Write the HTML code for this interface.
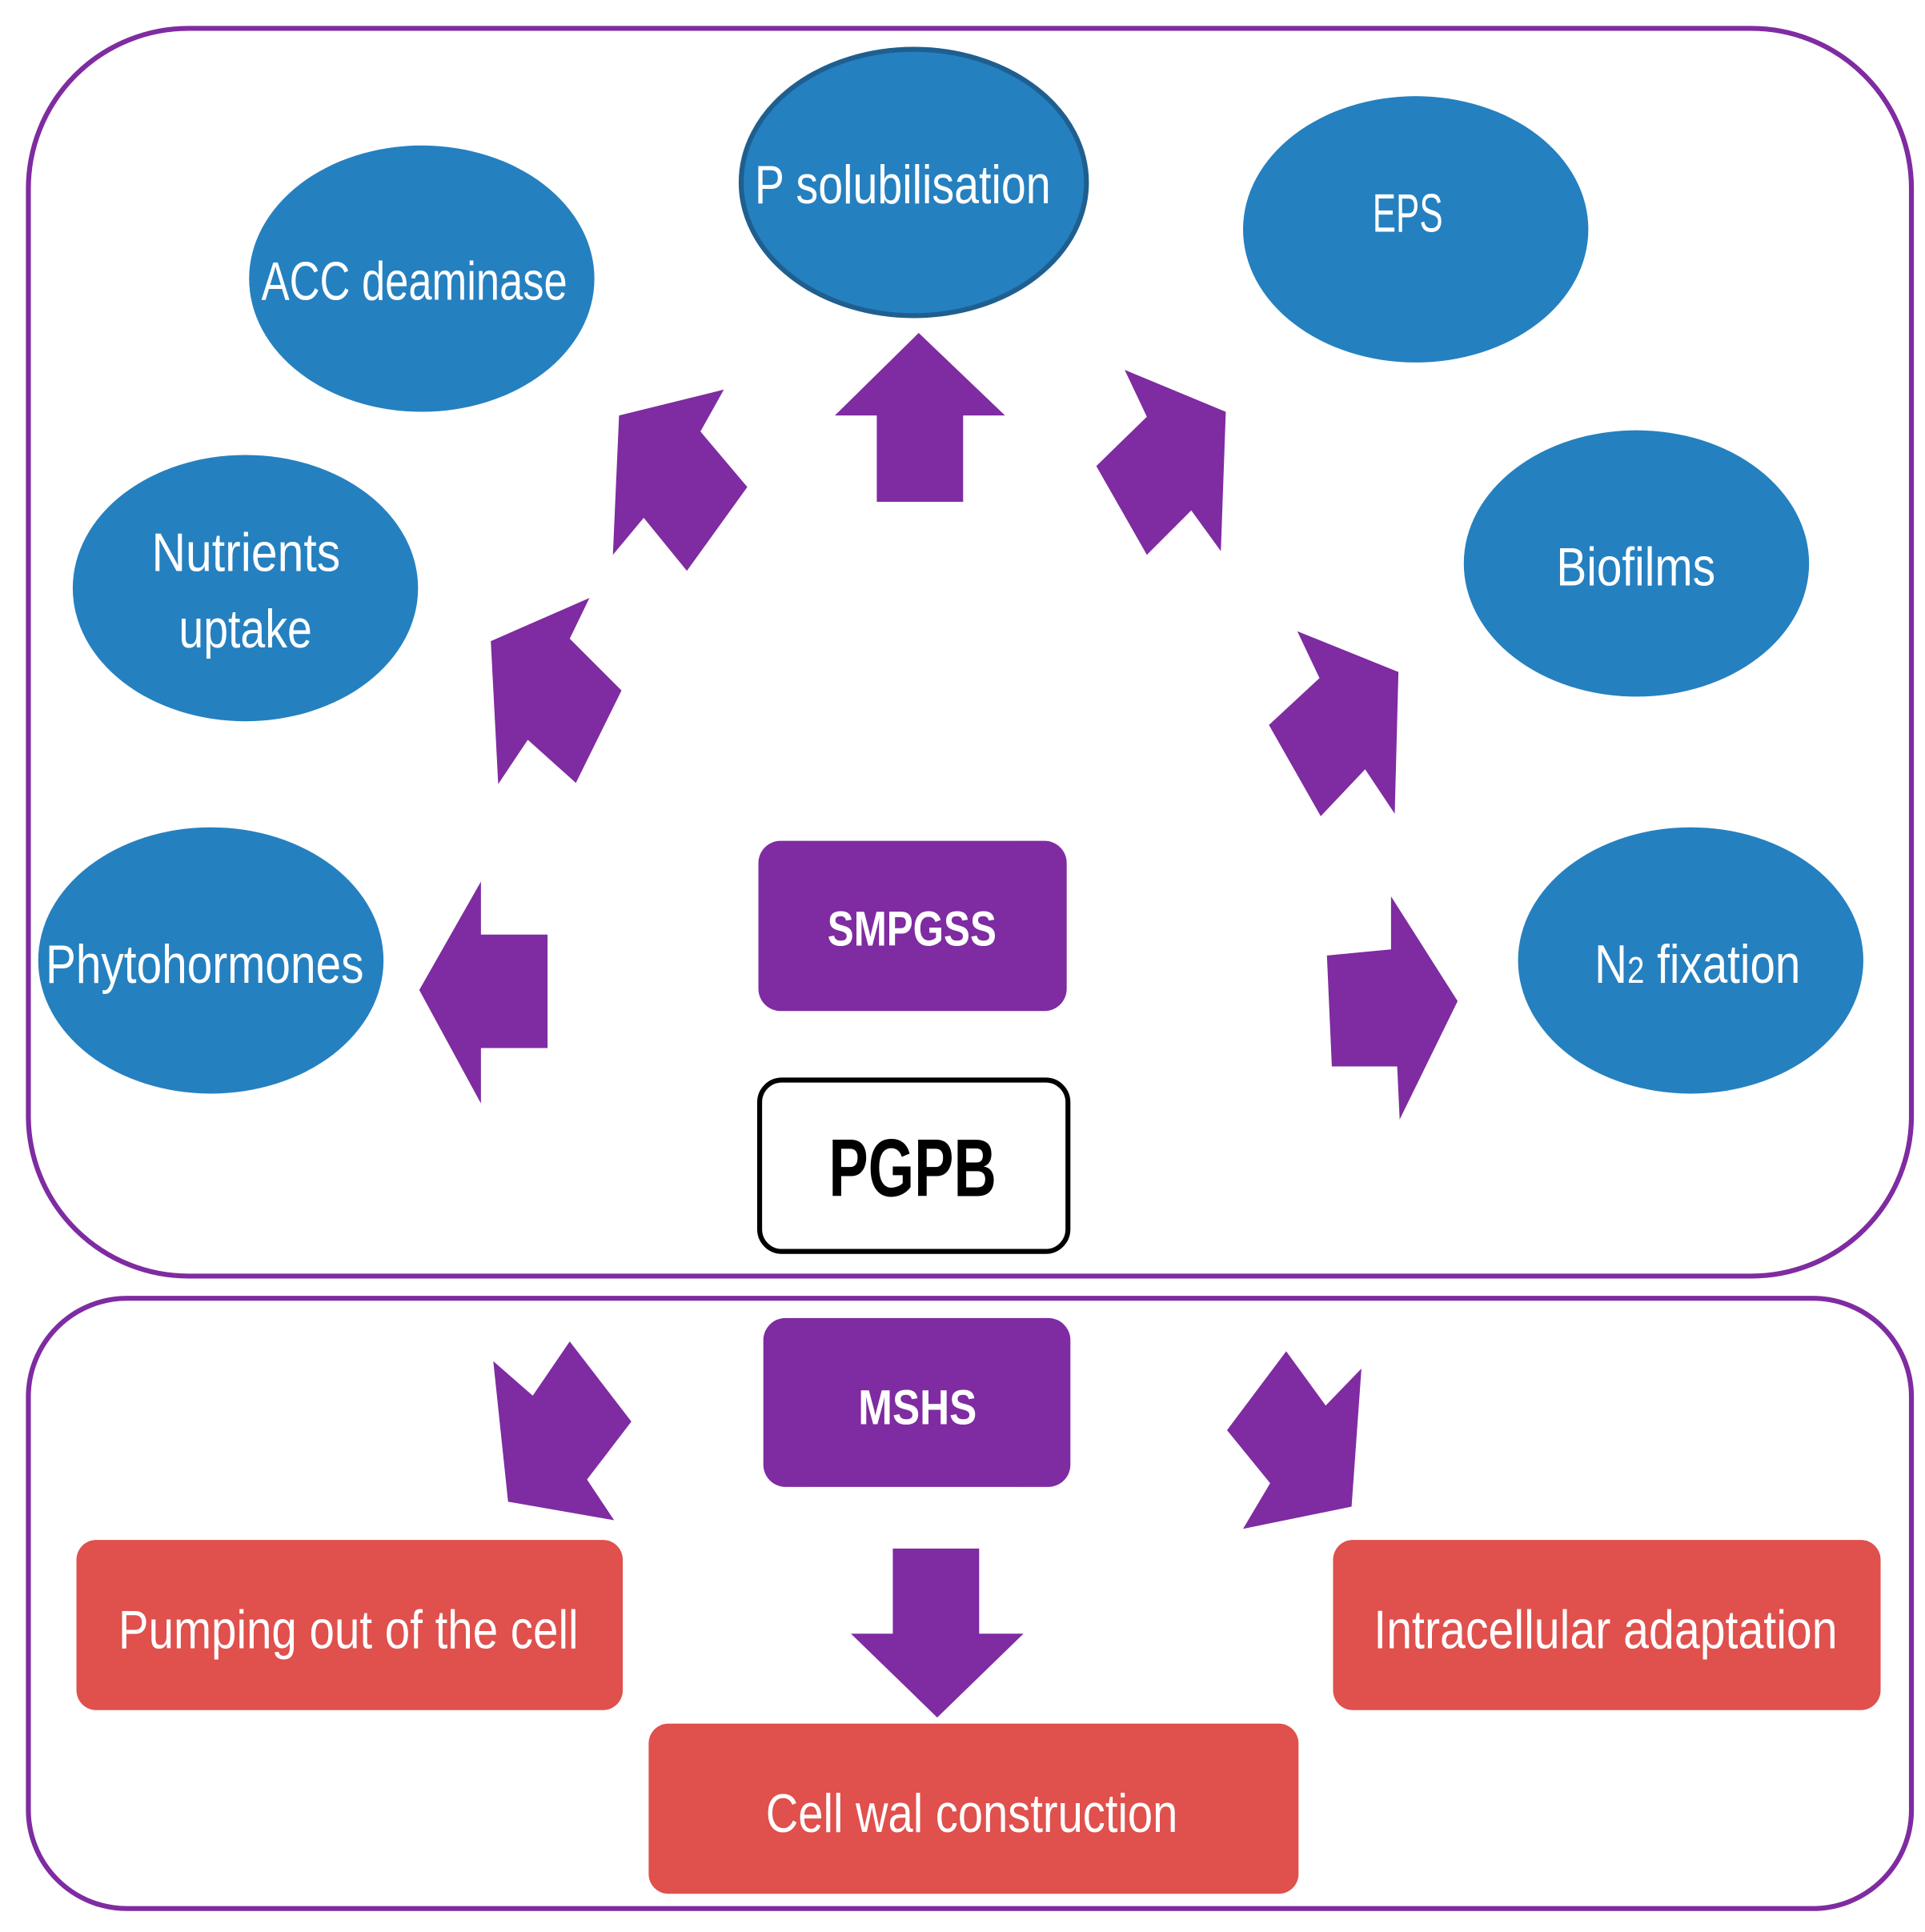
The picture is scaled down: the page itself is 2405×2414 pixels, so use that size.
<!DOCTYPE html>
<html><head><meta charset="utf-8"><style>
html,body{margin:0;padding:0;background:#fff;}
svg{display:block;}
text{font-family:"Liberation Sans",sans-serif;fill:#fff;}
</style></head><body>
<svg width="2405" height="2414" viewBox="0 0 1561 1567" preserveAspectRatio="none" xmlns="http://www.w3.org/2000/svg">
<rect x="23" y="23" width="1527" height="1012" rx="130" fill="#fff" stroke="#7f2ba1" stroke-width="4"/>
<rect x="23" y="1053" width="1527" height="495" rx="80" fill="#fff" stroke="#7f2ba1" stroke-width="4"/>
<g fill="#2580c0">
<ellipse cx="741" cy="148" rx="140" ry="108" stroke="#1f5f8f" stroke-width="4"/>
<ellipse cx="342" cy="226" rx="140" ry="108"/>
<ellipse cx="1148" cy="186" rx="140" ry="108"/>
<ellipse cx="199" cy="477" rx="140" ry="108"/>
<ellipse cx="1327" cy="457" rx="140" ry="108"/>
<ellipse cx="171" cy="779" rx="140" ry="108"/>
<ellipse cx="1371" cy="779" rx="140" ry="108"/>
</g>
<g fill="#7f2ba1">
<rect x="615" y="682" width="250" height="138" rx="18"/>
<rect x="619" y="1069" width="249" height="137" rx="18"/>
<polygon points="745,270 815,337 781,337 781,407 711,407 711,337 677,337"/>
<polygon points="340,803 390,715 390,758 444,758 444,850 390,850 390,895"/>
<polygon points="1182,812 1128,727 1128,770 1076,775 1080,865 1133,865 1135,908"/>
<polygon points="502,337 587,316 568,350 606,395 557,463 522,420 497,450"/>
<polygon points="398,520 478,485 462,518 504,560 467,635 428,600 404,636"/>
<polygon points="912,300 994,334 990,447 966,414 930,450 889,378 930,338"/>
<polygon points="1052,512 1134,545 1131,660 1107,624 1071,662 1029,588 1070,550"/>
<polygon points="400,1104 432,1132 462,1088 512,1153 476,1200 498,1233 412,1218"/>
<polygon points="1104,1110 1096,1222 1008,1240 1030,1203 995,1160 1043,1096 1075,1140"/>
<polygon points="724,1256 794,1256 794,1325 830,1325 760,1393 690,1325 724,1325"/>
</g>
<rect x="616" y="876" width="250" height="139" rx="18" fill="#fff" stroke="#000" stroke-width="4"/>
<g fill="#e0504c">
<rect x="62" y="1249" width="443" height="138" rx="16"/>
<rect x="1081" y="1249" width="444" height="138" rx="16"/>
<rect x="526" y="1398" width="527" height="138" rx="16"/>
</g>
<g font-size="44">
<text x="612" y="165" textLength="240" lengthAdjust="spacingAndGlyphs">P solubilisation</text>
<text x="212" y="243" textLength="248" lengthAdjust="spacingAndGlyphs">ACC deaminase</text>
<text x="1113" y="188" textLength="57" lengthAdjust="spacingAndGlyphs">EPS</text>
<text x="123" y="463" textLength="153" lengthAdjust="spacingAndGlyphs">Nutrients</text>
<text x="145" y="525" textLength="108" lengthAdjust="spacingAndGlyphs">uptake</text>
<text x="1262" y="475" textLength="129" lengthAdjust="spacingAndGlyphs">Biofilms</text>
<text x="37" y="797" textLength="258" lengthAdjust="spacingAndGlyphs">Phytohormones</text>
<text x="1293" y="797" textLength="167" lengthAdjust="spacingAndGlyphs">N<tspan font-size="30">2</tspan> fixation</text>
<text x="96" y="1337" textLength="373" lengthAdjust="spacingAndGlyphs">Pumping out of the cell</text>
<text x="1114" y="1337" textLength="376" lengthAdjust="spacingAndGlyphs">Intracellular adaptation</text>
<text x="621" y="1486" textLength="334" lengthAdjust="spacingAndGlyphs">Cell wal construction</text>
</g>
<text x="671" y="767" font-size="40" font-weight="bold" textLength="137" lengthAdjust="spacingAndGlyphs">SMPGSS</text>
<text x="696" y="1155" font-size="40" font-weight="bold" textLength="96" lengthAdjust="spacingAndGlyphs">MSHS</text>
<text x="672" y="970" font-size="66" font-weight="bold" style="fill:#000" textLength="136" lengthAdjust="spacingAndGlyphs">PGPB</text>
</svg>
</body></html>
